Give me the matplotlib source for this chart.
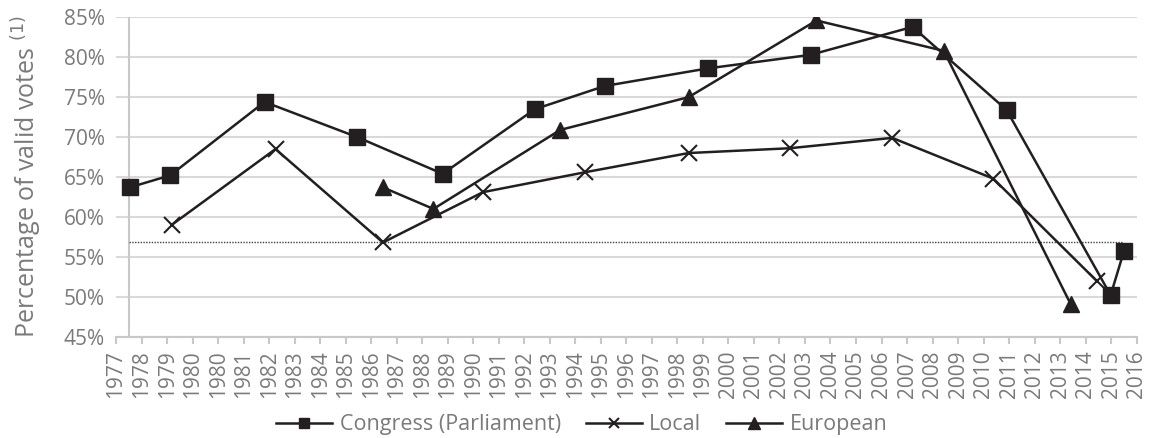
import matplotlib.pyplot as plt

plt.rcParams['font.family'] = ['Open Sans', 'DejaVu Sans']

# tick labels of the date axis (the source repeats 1980)
tick_labels = ['1977', '1978', '1979', '1980', '1980'] + [str(y) for y in range(1981, 2017)]

# positions are in tick units along the axis (0 = first tick)
congress_x = [0.54, 2.12, 5.82, 9.45, 12.8, 16.42, 19.16, 23.19, 27.22, 31.22, 34.9, 38.98, 39.5]
congress_y = [63.7, 65.2, 74.4, 70.0, 65.4, 73.5, 76.4, 78.6, 80.3, 83.8, 73.4, 50.2, 55.7]

local_x = [2.18, 6.25, 10.46, 14.38, 18.39, 22.44, 26.4, 30.42, 34.38, 38.43]
local_y = [59.0, 68.5, 56.8, 63.1, 65.6, 68.0, 68.6, 69.9, 64.8, 52.0]

european_x = [10.46, 12.44, 17.41, 22.44, 27.45, 32.44, 37.41]
european_y = [63.7, 61.0, 70.9, 75.0, 84.6, 80.8, 49.1]

average = 56.85
avg_x = [0.52, 39.48]

grey = '#7a7a7a'
ink = '#231f20'

fig = plt.figure(figsize=(11.5, 4.38), dpi=100)
ax = fig.add_axes([0.1009, 0.2313, 0.8875, 0.7292])

ax.set_xlim(0, 40)
ax.set_ylim(45, 85)
ax.set_yticks(range(45, 86, 5))
ax.set_yticklabels([f'{v}%' for v in range(45, 86, 5)])
ax.set_xticks(range(len(tick_labels)))
ax.set_xticklabels(tick_labels, rotation=90)

ax.grid(axis='y', color='#d9d9d9', linewidth=1.5)
ax.set_axisbelow(True)
for s in ['top', 'right', 'left']:
    ax.spines[s].set_visible(False)
ax.spines['bottom'].set_color('#c8c8c8')
ax.spines['bottom'].set_linewidth(1.5)
ax.axvline(0.52, color='#c8c8c8', linewidth=1.5, zorder=1)

ax.tick_params(axis='y', length=0, pad=8, labelsize=15, labelcolor=grey)
ax.tick_params(axis='x', length=5, width=1.5, color='#c8c8c8', pad=5, labelsize=15, labelcolor=grey)

ax.plot(avg_x, [average, average], color='#404040', linewidth=1, linestyle=(0, (1, 1)), zorder=2)

ax.plot(congress_x, congress_y, color=ink, linewidth=1.8, marker='s', markersize=11,
        label='Congress (Parliament)', zorder=3)
ax.plot(local_x, local_y, color=ink, linewidth=1.8, marker='x', markersize=11,
        markeredgewidth=1.5, label='Local', zorder=3)
ax.plot(european_x, european_y, color=ink, linewidth=1.8, marker='^', markersize=12,
        label='European', zorder=3)

ax.set_ylabel('Percentage of valid votes $^{(1)}$', fontsize=18, color=grey, labelpad=14)

leg = fig.legend(loc='center', bbox_to_anchor=(0.506, 0.03), ncol=3, frameon=False,
                 fontsize=15.5, handlelength=2.6, handletextpad=0.35, columnspacing=1.15,
                 markerscale=0.7)
for t in leg.get_texts():
    t.set_color(grey)

fig.savefig('out.png', dpi=100)
